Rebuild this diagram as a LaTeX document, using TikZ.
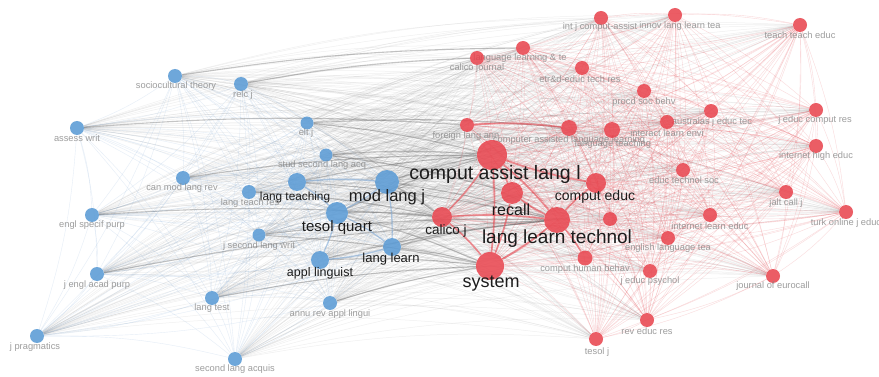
\documentclass[tikz,border=0pt]{standalone}
\usepackage{fontspec}
\setmainfont{Liberation Sans}
\usetikzlibrary{backgrounds}

\definecolor{bluenode}{HTML}{5B9BD5}
\definecolor{rednode}{HTML}{E8414B}
\definecolor{labgray}{HTML}{858585}
\definecolor{labdark}{HTML}{1C1C1C}
\definecolor{blueline}{HTML}{7FA9D6}
\definecolor{redline}{HTML}{E6464F}
\definecolor{grayline}{HTML}{5A5A5A}

\tikzset{
  bnode/.style={circle, fill=bluenode, fill opacity=0.88, draw=none, inner sep=0pt},
  rnode/.style={circle, fill=rednode, fill opacity=0.85, draw=none, inner sep=0pt},
  smalllab/.style={text=labgray, text opacity=0.8, inner sep=0pt,
    font=\fontsize{9.3}{10}\selectfont},
  biglab/.style={text=labdark, inner sep=0pt, font=\fontsize{#1}{#1}\selectfont},
  blink/.style={draw=blueline, line width=0.4pt, draw opacity=0.2},
  rlink/.style={draw=redline, line width=0.4pt, draw opacity=0.2},
  xlink/.style={draw=grayline, line width=0.5pt, draw opacity=0.085},
  bstrong/.style={draw=blueline, line width=1.2pt, draw opacity=0.6},
  rstrong/.style={draw=redline, line width=1.6pt, draw opacity=0.6},
  xstrong/.style={draw=grayline, line width=1.1pt, draw opacity=0.35},
}

\begin{document}
\begin{tikzpicture}[x=1pt, y=-1pt]
\useasboundingbox (0,0) rectangle (879,377);

% ---- blue cluster: journals with small grey labels
\foreach \nm/\x/\y/\d/\lx/\ly/\txt in {
  b1/175/76/14/176/86/sociocultural theory,
  b2/241/84/14/243/95/relc j,
  b3/77/128/14/77/138/assess writ,
  b4/307/123/13/306/133/elt j,
  b5/326/155/13/322/165/stud second lang acq,
  b6/183/178/14/182/188/can mod lang rev,
  b8/249/192/14/250/203/lang teach res,
  b11/92/215/14/92/225/engl specif purp,
  b12/259/235/13/259/246/j second lang writ,
  b15/97/274/14/97/285/j engl acad purp,
  b16/212/298/14/212/308/lang test,
  b17/330/303/14/330/314/annu rev appl lingui,
  b18/37/336/14/35/347/j pragmatics,
  b19/235/359/14/235/369/second lang acquis}
{
  \node[bnode, minimum size=\d pt] (\nm) at (\x,\y) {};
  \node[smalllab] (\nm-t) at (\lx,\ly) {\txt};
}

% ---- blue cluster: larger journals with dark labels
\foreach \nm/\x/\y/\d/\lx/\ly/\fs/\txt in {
  b7/297/182/18/295/197/11.8/lang teaching,
  b9/387/182/24/387/197/16.5/mod lang j,
  b10/337/213/22/337/228/15/tesol quart,
  b13/392/247/18/391/259/13/lang learn,
  b14/320/260/18/320/273/12.5/appl linguist}
{
  \node[bnode, minimum size=\d pt] (\nm) at (\x,\y) {};
  \node[biglab=\fs] (\nm-t) at (\lx,\ly) {\txt};
}

% ---- red cluster: journals with small grey labels
\foreach \nm/\x/\y/\d/\lx/\ly/\txt in {
  r1/601/18/14/600/27/int j comput-assist,
  r2/675/15/14/680/26/innov lang learn tea,
  r3/800/25/14/800/35/teach teach educ,
  r4/523/48/14/520/58/language learning \& te,
  r5/477/58/14/477/68/calico journal,
  r6/582/68/14/580/79/etr\&d-educ tech res,
  r7/644/91/14/644/102/procd soc behv,
  r8/711/111/14/712/122/australas j educ tec,
  r9/816/110/14/815/120/j educ comput res,
  r10/467/125/14/466/136/foreign lang ann,
  r11/569/128/16/569/140/computer assisted language learning,
  r12/612/130/16/613/144/language teaching,
  r13/667/122/14/667/133/interact learn envi,
  r14/816/146/14/816/156/internet high educ,
  r15/683/170/14/684/180/educ technol soc,
  r16/786/192/14/786/203/jalt call j,
  r17/846/212/14/846/223/turk online j educ,
  r18/710/215/14/710/226/internet learn educ,
  r19/668/238/14/668/248/english language tea,
  r20/650/271/14/650/281/j educ psychol,
  r21/585/258/15/585/269/comput human behav,
  r29/773/276/14/773/286/journal of eurocall,
  r30/647/320/14/647/331/rev educ res,
  r31/596/339/14/597/352/tesol j}
{
  \node[rnode, minimum size=\d pt] (\nm) at (\x,\y) {};
  \node[smalllab] (\nm-t) at (\lx,\ly) {\txt};
}
\node[rnode, minimum size=14pt] (r22) at (610,219) {};

% ---- red cluster: larger journals with dark labels
\foreach \nm/\x/\y/\d/\lx/\ly/\fs/\txt in {
  r23/596/183/20/595/197/14/comput educ,
  r24/512/193/22/511/210/16/recall,
  r25/557/220/26/557/239/19/lang learn technol,
  r26/442/217/20/446/231/13.5/calico j,
  r27/492/155/30/495/174/19.5/comput assist lang l,
  r28/490/266/28/491/284/18/system}
{
  \node[rnode, minimum size=\d pt] (\nm) at (\x,\y) {};
  \node[biglab=\fs] (\nm-t) at (\lx,\ly) {\txt};
}

% ---- links, kept behind the journals
\begin{pgfonlayer}{background}
  \fill[white] (0,0) rectangle (879,377);
  % links between the two clusters
  \foreach \i in {1,...,19}{
    \foreach \j in {1,...,31}{
      \draw[xlink] (b\i) to[bend left=7] (r\j);
    }
  }
  % links inside the blue cluster
  \foreach \i in {1,...,18}{
    \pgfmathtruncatemacro\s{\i+1}
    \foreach \j in {\s,...,19}{
      \draw[blink] (b\i) to[bend left=7] (b\j);
    }
  }
  % links inside the red cluster
  \foreach \i in {1,...,30}{
    \pgfmathtruncatemacro\s{\i+1}
    \foreach \j in {\s,...,31}{
      \draw[rlink] (r\i) to[bend left=7] (r\j);
    }
  }
  % heavier links
  \foreach \a/\b in {b9/r27, b10/r28, b10/r27, b9/r25, b13/r28, b14/r28,
      b7/r27, b4/r27, b5/r27, b12/r25, b16/r28, b17/r28, b3/r10, b2/r5,
      b1/r4, b11/r26, b15/r25, b8/r26, b6/r27, b9/r26, b13/r25,
      b4/r11, b5/r24, b14/r25, b12/r28, b10/r26, b7/r25}
    \draw[xstrong] (\a) to[bend left=4] (\b);
  \foreach \a/\b in {b9/b10, b10/b13, b10/b14, b7/b9, b7/b10, b13/b14, b9/b13}
    \draw[bstrong] (\a) to[bend left=5] (\b);
  \foreach \a/\b in {r27/r25, r27/r24, r27/r28, r27/r26, r25/r24, r25/r28,
      r25/r23, r24/r28, r26/r25, r26/r28, r23/r27, r10/r11, r25/r21}
    \draw[rstrong] (\a) to[bend left=5] (\b);
\end{pgfonlayer}
\end{tikzpicture}
\end{document}
